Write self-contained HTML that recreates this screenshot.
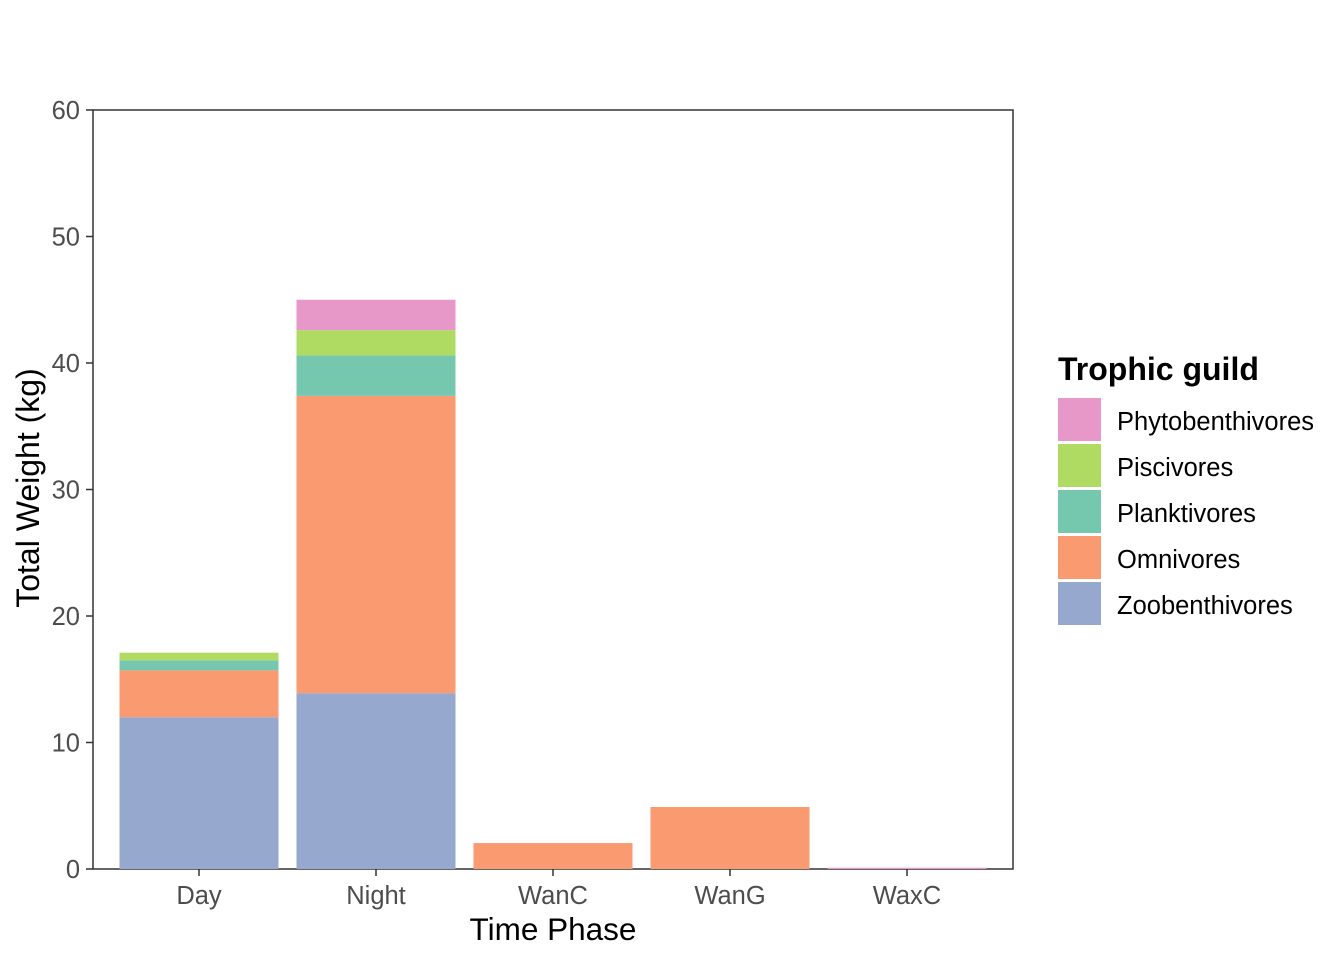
<!DOCTYPE html>
<html><head><meta charset="utf-8"><style>body{margin:0;background:#fff}svg{display:block}text{font-family:"Liberation Sans",Arial,sans-serif}</style></head>
<body>
<svg id="chart" width="1344" height="960">
<rect x="93" y="110" width="920" height="759" fill="#fff" stroke="#333" stroke-width="1.5"/>
<g id="bars"></g><g id="axes"></g>
<text x="553" y="940" font-size="31.5" text-anchor="middle" fill="#000">Time Phase</text>
<text transform="translate(39,488) rotate(-90)" font-size="32" text-anchor="middle" fill="#000">Total Weight (kg)</text>
<g id="legend">
<text x="1058" y="380" font-size="32" font-weight="bold" fill="#000">Trophic guild</text>
</g>
</svg>
<script>
const categories=["Day","Night","WanC","WanG","WaxC"];
const guilds=["Zoobenthivores","Omnivores","Planktivores","Piscivores","Phytobenthivores"];
const colors=["#97A8CF","#FA9A71","#75C8AE","#B0DB63","#E897C9"];
const zoobenthivores=[12.0,13.9,0,0,0];
const omnivores=[3.7,23.5,2.05,4.9,0];
const planktivores=[0.8,3.2,0,0,0];
const piscivores=[0.6,2.0,0,0,0];
const phytobenthivores=[0,2.4,0,0,0.1];
const series=[zoobenthivores,omnivores,planktivores,piscivores,phytobenthivores];
const yTicks=[0,10,20,30,40,50,60];
const NS="http://www.w3.org/2000/svg";
const y=v=>869-v*(759/60);
const x=i=>199+i*177;
const bw=159;
function mk(t,a,p){const e=document.createElementNS(NS,t);for(const k in a)e.setAttribute(k,a[k]);p.appendChild(e);return e;}
const bars=document.getElementById('bars'),axes=document.getElementById('axes');
categories.forEach((c,i)=>{let acc=0;series.forEach((s,j)=>{const v=s[i];if(v<=0)return;
const r=mk('rect',{x:x(i)-bw/2,y:y(acc+v),width:bw,height:y(acc)-y(acc+v),fill:colors[j]},bars);

acc+=v;});
const t=mk('line',{x1:x(i),x2:x(i),y1:869,y2:876,stroke:'#333','stroke-width':1.5},axes);

const l=mk('text',{x:x(i),y:904,'font-size':25.5,'text-anchor':'middle',fill:'#4d4d4d'},axes);l.textContent=c;
});
yTicks.forEach(v=>{const t=mk('line',{x1:86,x2:93,y1:y(v),y2:y(v),stroke:'#333','stroke-width':1.5},axes);

const l=mk('text',{x:80,y:y(v)+9,'font-size':25.5,'text-anchor':'end',fill:'#4d4d4d'},axes);l.textContent=v;
});
const lg=document.getElementById('legend');
for(let k=4;k>=0;k--){const row=4-k;const yy=398+row*46;
const r=mk('rect',{x:1058,y:yy,width:43,height:43,fill:colors[k]},lg);

const t=mk('text',{x:1117,y:yy+32,'font-size':25.5,fill:'#000'},lg);t.textContent=guilds[k];
}
</script>
</body></html>
